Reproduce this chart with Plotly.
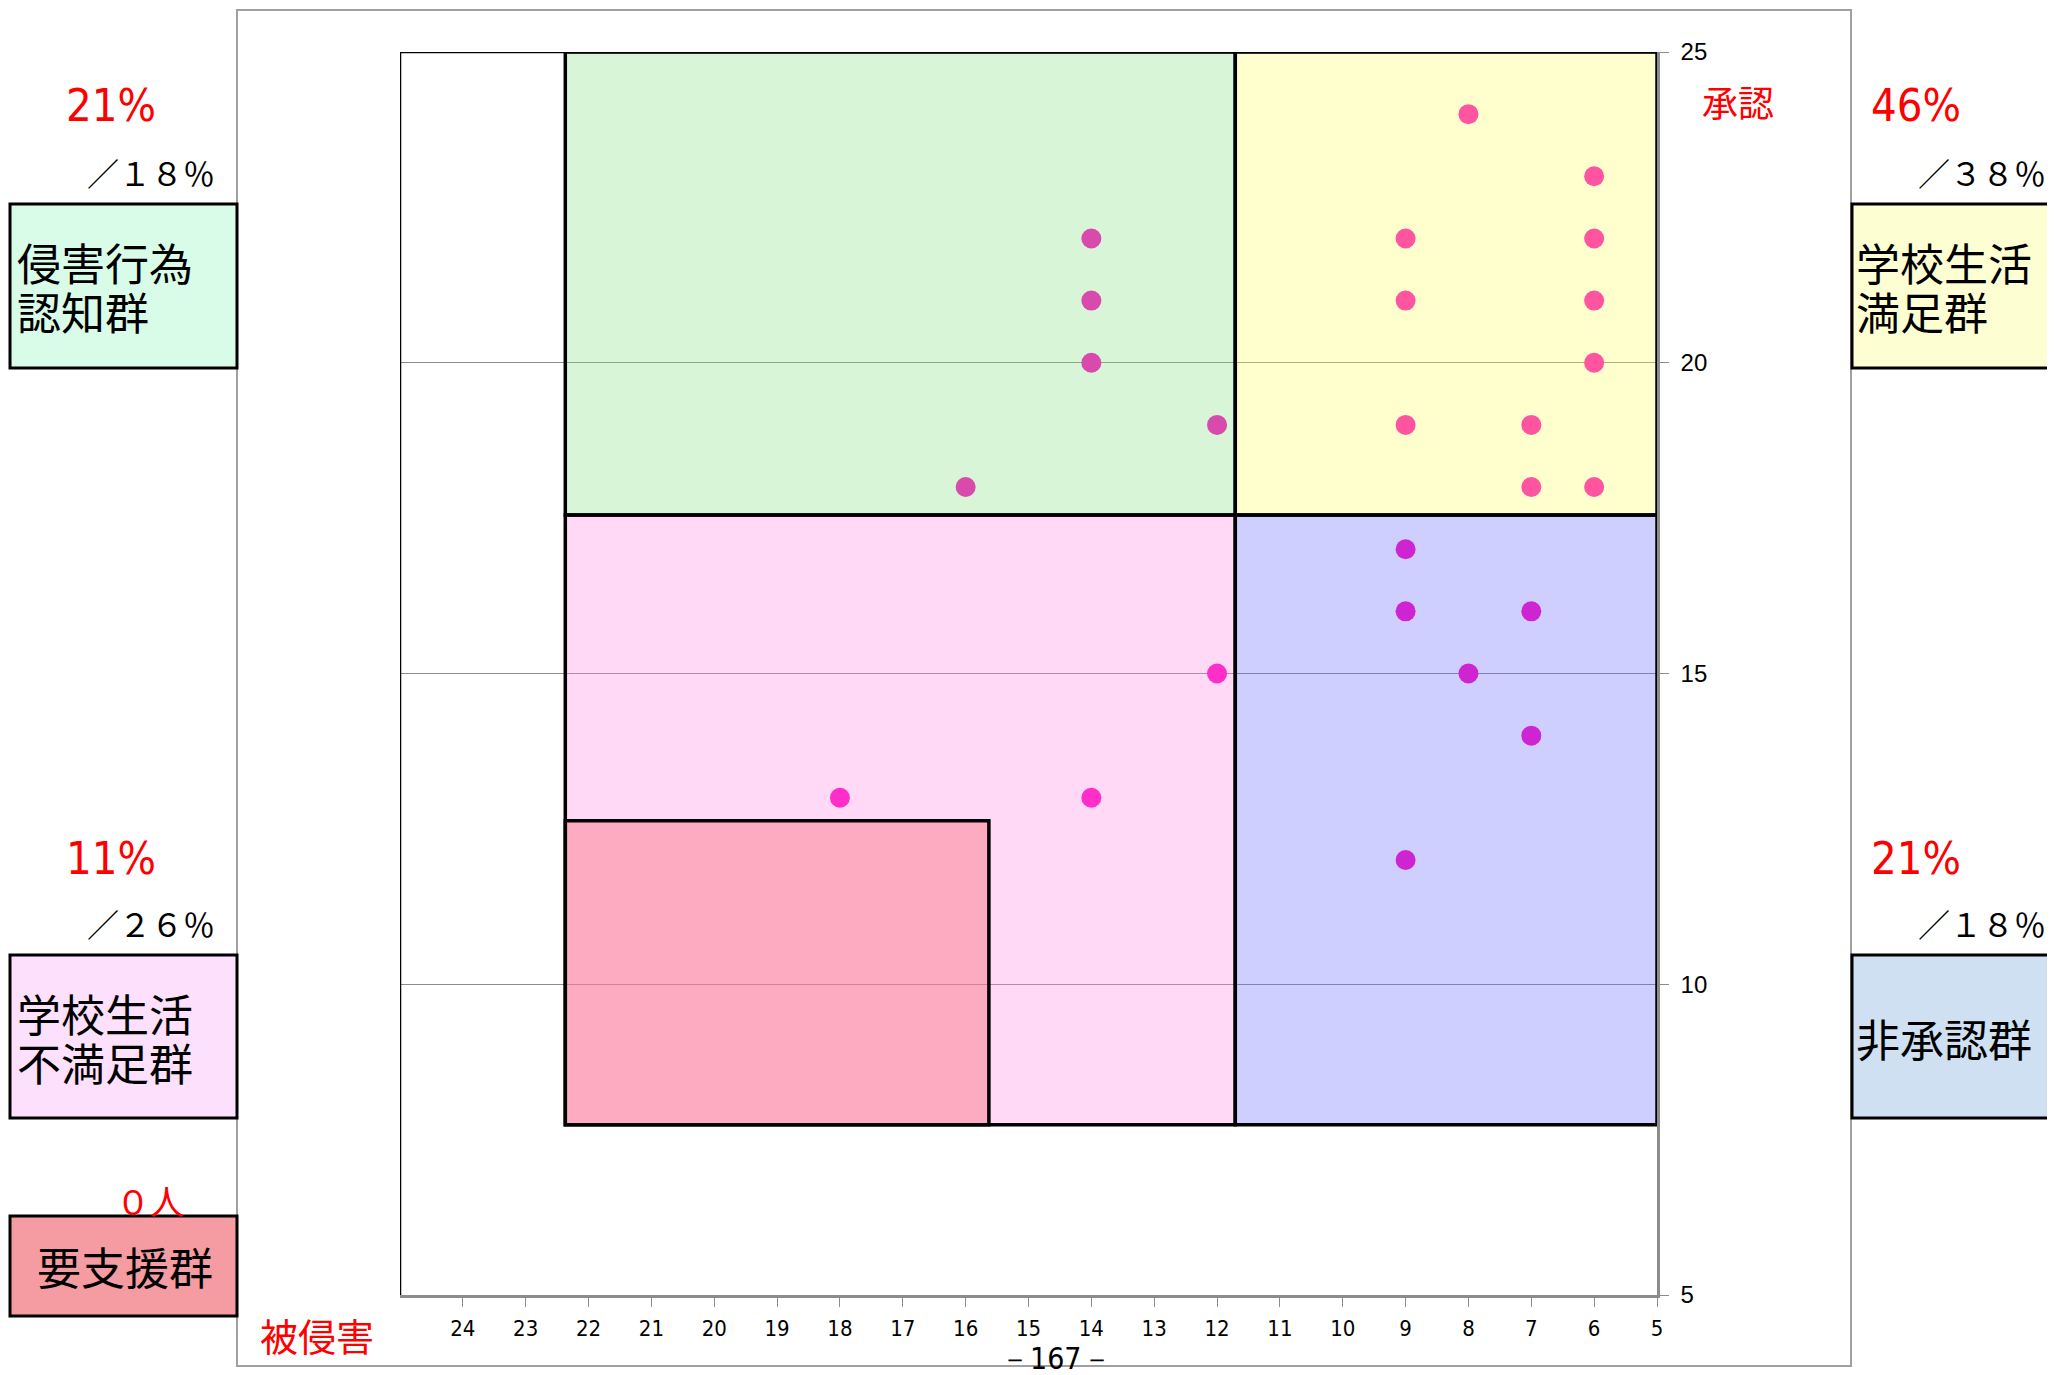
import plotly.graph_objects as go

# 被侵害 (x) / 承認 (y) scores of each student
higai = [8, 6, 14, 9, 6, 14, 9, 6, 14, 6, 12, 9, 7, 16, 7, 6, 9, 9, 7, 12, 8, 7, 18, 14, 9]
shonin = [24, 23, 22, 22, 22, 21, 21, 21, 20, 20, 19, 19, 19, 18, 18, 18, 17, 16, 16, 15, 15, 14, 13, 13, 12]

x_ticks = list(range(5, 25))
y_ticks = [5, 10, 15, 20, 25]

# group boundaries (score criteria)
higai_hi = 22.37
higai_mid = 11.71
higai_support = 15.63
shonin_mid = 17.55
shonin_lo = 7.74
shonin_support = 12.63

# side labels
left_groups = [["侵害行為", "認知群"], ["学校生活", "不満足群"]]
right_groups = [["学校生活", "満足群"], ["非承認群"]]
support_group = "要支援群"
class_pct = {"left_top": "21%", "right_top": "46%", "left_bottom": "11%", "right_bottom": "21%"}
ref_pct = {"left_top": "／１８％", "right_top": "／３８％", "left_bottom": "／２６％", "right_bottom": "／１８％"}
support_count = "０人"

W, H = 2055, 1375
OFF = 8  # the page body margin shifts the figure by this much
JP = "Noto Sans CJK JP"
NARROW = "DejaVu Sans Condensed, Liberation Sans, sans-serif"


def px(x, y):
    return (x - OFF) / W, 1 - (y - OFF) / H


fig = go.Figure()

fig.add_trace(go.Scatter(
    x=higai, y=shonin, mode="markers",
    marker=dict(size=20, color="#ff00bd", line=dict(width=0)),
    showlegend=False, hoverinfo="x+y",
))

# tinted group areas drawn over the points (semi transparent, like the original)
areas = [
    (higai_hi, higai_mid, shonin_mid, 25, "rgb(138,225,138)", 0.33),
    (higai_mid, 5, shonin_mid, 25, "rgb(255,255,102)", 0.33),
    (higai_hi, higai_mid, shonin_lo, shonin_mid, "rgb(255,140,225)", 0.33),
    (higai_mid, 5, shonin_lo, shonin_mid, "rgb(110,110,255)", 0.33),
    (higai_hi, higai_support, shonin_lo, shonin_support, "rgb(248,115,130)", 0.45),
]
for x0, x1, y0, y1, col, op in areas:
    fig.add_shape(type="rect", xref="x", yref="y", x0=x0, x1=x1, y0=y0, y1=y1,
                  fillcolor=col, opacity=op, line=dict(width=0), layer="above")
for x0, x1, y0, y1, col, op in areas:
    fig.add_shape(type="rect", xref="x", yref="y", x0=x0, x1=x1, y0=y0, y1=y1,
                  line=dict(color="black", width=3.5), layer="above")

# black top/left frame of the plot area
fig.add_shape(type="line", xref="x", yref="y", x0=25, x1=5, y0=25, y1=25,
              line=dict(color="black", width=2.5), layer="above")
fig.add_shape(type="line", xref="x", yref="y", x0=25, x1=25, y0=5, y1=25,
              line=dict(color="black", width=2.5), layer="above")

# page frame
x0, y0 = px(237, 10)
x1, y1 = px(1851, 1366)
fig.add_shape(type="rect", xref="paper", yref="paper", x0=x0, x1=x1, y0=y0, y1=y1,
              line=dict(color="#a0a0a0", width=2), layer="below")

# label boxes
boxes = [
    (10, 237, 204, 368, "#d9fce9"),
    (10, 237, 955, 1118, "#fde0fc"),
    (10, 237, 1216, 1316, "#f49ca2"),
    (1852, 2080, 204, 368, "#fefed3"),
    (1852, 2080, 955, 1118, "#cfe0f2"),
]
for bx0, bx1, by0, by1, col in boxes:
    ax0, ay0 = px(bx0, by0)
    ax1, ay1 = px(bx1, by1)
    fig.add_shape(type="rect", xref="paper", yref="paper", x0=ax0, x1=ax1, y0=ay1, y1=ay0,
                  fillcolor=col, line=dict(color="black", width=3), layer="above")


def note(text, x, y, size, color="black", family=JP, xanchor="center"):
    ax, ay = px(x, y)
    fig.add_annotation(text=text, x=ax, y=ay, xref="paper", yref="paper",
                       xanchor=xanchor, yanchor="middle", showarrow=False,
                       font=dict(size=size, color=color, family=family))


def box_text(lines, x, y_first):
    for i, line in enumerate(lines):
        note(line, x, y_first + i * 49, 44, xanchor="left")


box_text(left_groups[0], 15, 262)
box_text(left_groups[1], 15, 1013)
box_text(right_groups[0], 1854, 262)
box_text(right_groups[1], 1854, 1038)
note(support_group, 125, 1266, 44)

note(class_pct["left_top"], 111, 106, 45, "red", NARROW)
note(class_pct["left_bottom"], 111, 858, 45, "red", NARROW)
note(class_pct["right_top"], 1916, 106, 45, "red", NARROW)
note(class_pct["right_bottom"], 1916, 858, 45, "red", NARROW)

note(ref_pct["left_top"], 151, 172, 32)
note(ref_pct["left_bottom"], 151, 923, 32)
note(ref_pct["right_top"], 1982, 172, 32)
note(ref_pct["right_bottom"], 1982, 923, 32)

note(support_count, 150, 1200, 34, "red")
note("被侵害", 317, 1334, 38, "red")
note("承認", 1738, 101, 36, "red")
note("－167－", 1056, 1358, 30, family=NARROW)

fig.update_layout(
    width=W, height=H,
    margin=dict(l=0, r=0, t=0, b=0, autoexpand=False),
    paper_bgcolor="white", plot_bgcolor="white",
    showlegend=False,
    xaxis=dict(
        domain=[(400 - OFF) / W, (1657 - OFF) / W],
        range=[25, 5],
        tickvals=x_ticks,
        ticks="outside", ticklen=9, tickcolor="#8c8c8c", tickwidth=1,
        showline=True, linecolor="#8c8c8c", linewidth=2.5,
        showgrid=False, zeroline=False, automargin=False,
        tickfont=dict(family=NARROW, size=22, color="black"),
        ticklabelstandoff=3,
    ),
    yaxis=dict(
        domain=[1 - (1295 - OFF) / H, 1 - (52 - OFF) / H],
        range=[5, 25],
        side="right",
        tickvals=y_ticks,
        ticks="outside", ticklen=9, tickcolor="#8c8c8c", tickwidth=1,
        showline=True, linecolor="#8c8c8c", linewidth=2.5,
        showgrid=True, gridcolor="#8c8c8c", gridwidth=1,
        zeroline=False, automargin=False,
        tickfont=dict(family="Liberation Sans", size=24, color="black"),
        ticklabelstandoff=7,
    ),
)

fig.write_html("out.html")
